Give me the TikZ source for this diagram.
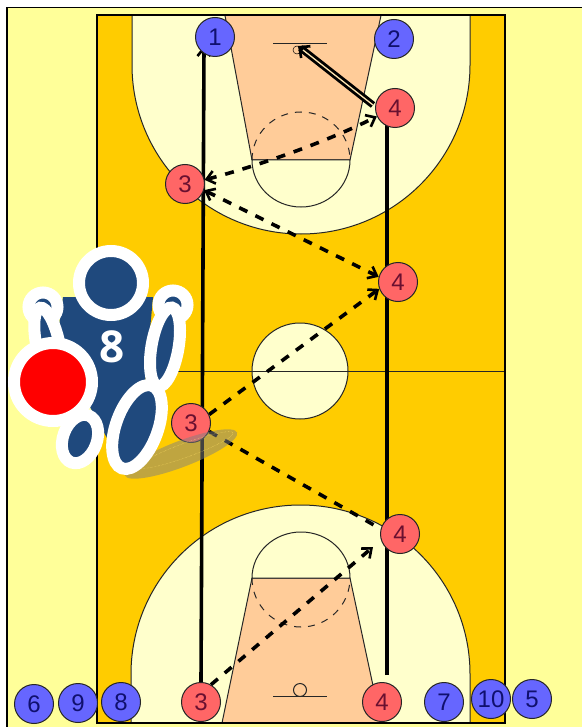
\documentclass[tikz,border=0pt]{standalone}
\usepackage{fontspec}
\setmainfont{Liberation Sans}
\newfontfamily\iconfont{Open Sans}
\usetikzlibrary{arrows.meta}
\definecolor{outside}{HTML}{FFFF99}
\definecolor{court}{HTML}{FFCC00}
\definecolor{cream}{HTML}{FFFFCC}
\definecolor{keyc}{HTML}{FFCC99}
\definecolor{bluep}{HTML}{6666FF}
\definecolor{redp}{HTML}{FF6666}
\definecolor{navy}{HTML}{1F497D}
\definecolor{bluetxt}{HTML}{10106E}
\definecolor{redtxt}{HTML}{6A1030}
\pgfdeclarelayer{courtlayer}
\pgfdeclarelayer{lineslayer}
\pgfdeclarelayer{toplayer}
\pgfsetlayers{courtlayer,lineslayer,main,toplayer}
\tikzset{
 cline/.style={draw=black!85,line width=1pt},
 pbase/.style={circle,draw=black!85,line width=1pt,minimum size=39pt,inner sep=0pt,font=\fontsize{24}{24}\selectfont},
 bluepl/.style={pbase,fill=bluep,text=bluetxt},
 redpl/.style={pbase,fill=redp,text=redtxt},
 run/.style={line width=3.6pt},
 pass/.style={line width=3.6pt,dash pattern=on 9pt off 9pt},
 tiphead/.style={-{Straight Barb[length=8pt,width=13pt,line width=2.6pt]}},
 tipboth/.style={{Straight Barb[length=8pt,width=13pt,line width=2.6pt]}-{Straight Barb[length=8pt,width=13pt,line width=2.6pt]}},
 icon/.style={fill=navy,draw=white,line width=12pt},
}
\begin{document}
\begin{tikzpicture}[x=1pt,y=-1pt]
\useasboundingbox (0,0) rectangle (582,727);
\begin{pgfonlayer}{courtlayer}
\fill[white] (0,0) rectangle (582,727);
\fill[outside] (7,8) rectangle (582,727);
\draw[line width=1.2pt] (7,727) -- (7,7.5) -- (582,7.5);
\fill[court] (97,15) rectangle (505,723);
\draw[cline,fill=cream] (132,15) -- (132,65) arc[start angle=180,end angle=0,radius=169] -- (470,15) -- cycle;
\draw[cline,fill=cream] (131,723) -- (131,674) arc[start angle=180,end angle=360,x radius=169.5,y radius=169] -- (470,723) -- cycle;
\draw[cline,fill=keyc] (225,15.5) -- (252,160) -- (350,160) -- (381,15.5) -- cycle;
\draw[cline,fill=cream] (252,160) arc[start angle=180,end angle=0,x radius=49,y radius=47] -- cycle;
\draw[cline,dashed,dash pattern=on 7pt off 7pt] (252,160) arc[start angle=180,end angle=360,x radius=49,y radius=48];
\draw[cline,fill=keyc] (222,723) -- (252,578) -- (350,578) -- (381,723) -- cycle;
\draw[cline,fill=cream] (252,578) arc[start angle=180,end angle=360,x radius=49,y radius=46] -- cycle;
\draw[cline,dashed,dash pattern=on 7pt off 7pt] (252,578) arc[start angle=180,end angle=0,x radius=49,y radius=49];
\draw[cline,fill=cream] (300,371) circle[radius=48];
\draw[cline] (97,371) -- (505,371);
\draw[line width=1.2pt] (97,723) -- (97,15) -- (505,15) -- (505,723) -- cycle;
\draw[cline] (273,44) -- (327,44);
\draw[line width=.5pt] (297,50) circle[radius=4];
\draw[cline] (273,696) -- (327,696);
\draw[cline] (300,690) circle[radius=6.5];
\end{pgfonlayer}
% players
\node[bluepl] (p1) at (215,37) {1};
\node[bluepl] (p2) at (394,39) {2};
\node[redpl] (d4) at (395,108) {4};
\node[redpl] (c3) at (185,184) {3};
\node[redpl] (c4) at (398,282) {4};
\node[redpl] (b3) at (191,423) {3};
\node[redpl] (b4) at (400,534) {4};
\node[redpl] (a3) at (201,702) {3};
\node[redpl] (a4) at (382,702) {4};
\node[bluepl] (p6) at (34,704) {6};
\node[bluepl] (p9) at (78,703) {9};
\node[bluepl] (p8) at (121,702) {8};
\node[bluepl] (p7) at (444,702) {7};
\node[bluepl] (p10) at (491,699) {10};
\node[bluepl] (p5) at (532,699) {5};
\coordinate (runtop) at (204,46);
\coordinate (runstart) at (387,675);
\coordinate (runend) at (387,120);
\coordinate (basket) at (298,46);
\coordinate (cutend) at (373,105);
\coordinate (drivetip) at (373,547);
% connectors
\begin{pgfonlayer}{lineslayer}
\draw[run,tiphead] (a3.north) -- (runtop);
\draw[run] (runstart) -- (runend);
\draw[pass,tiphead] (a3.60) -- (drivetip);
\draw[pass] (b3.-25) -- (b4.165);
\draw[pass,tiphead] (b3.25) -- (c4.200);
\draw[pass,tipboth] (c3.-18) -- (c4.165);
\draw[pass,tipboth] (c3.12) .. controls (250,168) and (320,145) .. (d4.205);
\draw[line width=7pt,-{Straight Barb[length=8pt,width=15pt,line width=2.6pt]}] (cutend) -- (basket);
\draw[line width=1.3pt,draw=keyc!50!cream] (cutend) -- (303,50);
\end{pgfonlayer}
% shadow and icon
\begin{pgfonlayer}{toplayer}
\fill[black!50,opacity=.5] (181,454) ellipse[x radius=60,y radius=13,rotate=21];
\draw[court!60!white,line width=.4pt,densely dotted] (186,450) ellipse[x radius=50,y radius=7,rotate=20];
\fill[navy] (63,297) -- (153,297) -- (145,385) -- (112,442) -- (107,438) -- (90,407) -- (58,333) -- cycle;
\draw[icon] (43,307) circle[radius=14.5];
\draw[icon] (173,305) circle[radius=14.5];
\draw[icon] (48,345) ellipse[x radius=11.5,y radius=38,rotate=12];
\draw[icon] (165,347) ellipse[x radius=13.5,y radius=40,rotate=-10];
\draw[icon] (111,283) circle[radius=32];
\draw[icon] (137,427) ellipse[x radius=21,y radius=44,rotate=-20];
\draw[icon] (80,439) ellipse[x radius=17,y radius=25,rotate=-20];
\draw[icon,fill=red] (53,382) circle[radius=39];
\node[text=white,font=\iconfont\bfseries\fontsize{44}{44}\selectfont,inner sep=0pt] (num) at (112,347) {8};
\end{pgfonlayer}
\end{tikzpicture}
\end{document}
